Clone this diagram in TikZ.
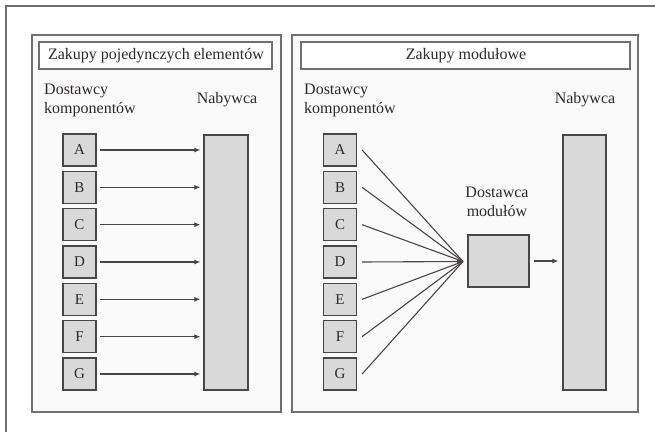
\documentclass[tikz,border=0pt]{standalone}
\usepackage{fontspec}
\setmainfont{Liberation Serif}
\usetikzlibrary{arrows.meta}
\definecolor{txt}{HTML}{2E2828}
\definecolor{ln}{HTML}{4A4646}
\definecolor{frm}{HTML}{707070}
\definecolor{boxfill}{HTML}{D9D9D9}
\definecolor{panelbg}{HTML}{FAFAFA}
\tikzset{
  panel/.style={draw=frm, line width=1.4pt, fill=panelbg},
  titlebox/.style={draw=frm, line width=1.3pt, fill=white},
  letterbox/.style={draw=ln, line width=1.2pt, fill=boxfill, minimum width=33pt, minimum height=32pt, inner sep=0pt, text=txt, font=\fontsize{15}{15}\selectfont},
  graybox/.style={draw=ln, line width=1.2pt, fill=boxfill, inner sep=0pt},
  lbl/.style={text=txt, font=\fontsize{16}{19}\selectfont, inner sep=0pt},
  conn/.style={draw=ln, line width=1.1pt},
  arr/.style={conn, -{Latex[length=6pt,width=5pt]}}
}
\begin{document}
\begin{tikzpicture}[x=1pt,y=-1pt]
\useasboundingbox (0,0) rectangle (655,432);
\fill[white] (0,0) rectangle (655,432);
% outer frame (cropped)
\draw[frm, line width=1.2pt] (6,432) -- (6,6) -- (655,6);
% panels
\draw[panel] (32,35) rectangle (281,412);
\draw[panel] (292,35) rectangle (638,412);
\draw[titlebox] (39,42) rectangle (272,69);
\draw[titlebox] (301,42) rectangle (630,69);
\node[lbl] (t1) at (156,55.5) {Zakupy pojedynczych elementów};
\node[lbl] (t2) at (466,55.5) {Zakupy modułowe};
% texts
\node[lbl, anchor=west, align=left] (dl) at (44,100) {Dostawcy\\komponentów};
\node[lbl] (nl) at (227,100) {Nabywca};
\node[lbl, anchor=west, align=left] (dr) at (304,100) {Dostawcy\\komponentów};
\node[lbl] (nr) at (585,100) {Nabywca};
\node[lbl, align=center] (dm) at (497,202) {Dostawca\\modułów};
% buyer rectangles
\node[graybox, minimum width=44pt, minimum height=255pt] (bl) at (226,262.5) {};
\node[graybox, minimum width=43pt, minimum height=255pt] (br) at (584.5,262.5) {};
% module box
\node[graybox, minimum width=61pt, minimum height=52pt] (mod) at (498.5,261) {};
\coordinate (hub) at (463,261.5);
% letter boxes
\foreach \L [count=\i from 0] in {A,B,C,D,E,F,G} {
  \node[letterbox] (l\L) at (79.5,{150+37.33*\i}) {\L};
  \node[letterbox] (r\L) at (340,{150+37.33*\i}) {\L};
  \coordinate (e\L) at (bl.west |- l\L.east);
  \draw[arr] ([xshift=3pt]l\L.east) -- ([xshift=-3pt]e\L);
  \draw[conn] ([xshift=5pt]r\L.east) -- (hub);
}
\coordinate (hubin) at ([xshift=-6pt]hub);
\draw[arr] (hubin) -- (hub);
\coordinate (bre) at (br.west |- mod.east);
\draw[arr] ([xshift=4pt]mod.east) -- ([xshift=-4pt]bre);
\end{tikzpicture}
\end{document}
